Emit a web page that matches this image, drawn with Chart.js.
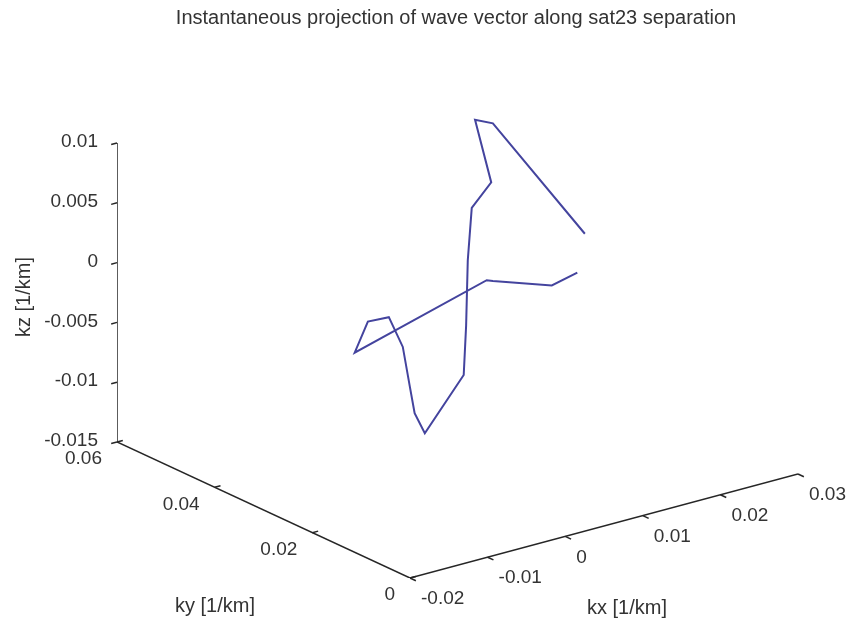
<!DOCTYPE html>
<html lang="en">
<head>
<meta charset="UTF-8">
<title>Wave vector projection</title>
<script src="https://cdn.jsdelivr.net/npm/chart.js"></script>
<style>
  body { margin: 0; background: #fff; }
  canvas { display: block; }
</style>
</head>
<body>
<canvas id="waveChart" width="855" height="627"></canvas>
<script>
// wave vector trace, components in 1/km
const kx = [0.0233, 0.0190, 0.0167, 0.0169, 0.0125, 0.0101, 0.0080, 0.0058, -0.0011, -0.0043,
            -0.0068, -0.0096, -0.0114, -0.0141, -0.0158, 0.0031, 0.0039, 0.0096, 0.0110];
const ky = [0.033, 0.045, 0.045, 0.042, 0.039, 0.036, 0.033, 0.030, 0.027, 0.024,
            0.021, 0.018, 0.018, 0.018, 0.018, 0.021, 0.021, 0.018, 0.015];
const kz = [0.0000, 0.0077, 0.0084, 0.0037, 0.0029, -0.0005, -0.0050, -0.0082, -0.0113, -0.0085,
            -0.0053, -0.0009, 0.0019, 0.0020, -0.0003, 0.0019, 0.0017, 0.0009, 0.0023];

// axis limits and ticks
const kxLim = [-0.02, 0.03];
const kyLim = [0, 0.06];
const kzLim = [-0.015, 0.01];
const kxTicks = [-0.02, -0.01, 0, 0.01, 0.02, 0.03];
const kyTicks = [0, 0.02, 0.04, 0.06];
const kzTicks = [-0.015, -0.01, -0.005, 0, 0.005, 0.01];
const kxTickLabels = ['-0.02', '-0.01', '0', '0.01', '0.02', '0.03'];
const kyTickLabels = ['0', '0.02', '0.04', '0.06'];
const kzTickLabels = ['-0.015', '-0.01', '-0.005', '0', '0.005', '0.01'];

// camera: where each unit axis of the box lands in the flat view
const ex = [388, 104];
const ey = [-293, 136];
const ez = [0, 299];

function project(x, y, z) {
    const nx = (x - kxLim[0]) / (kxLim[1] - kxLim[0]);
    const ny = (y - kyLim[0]) / (kyLim[1] - kyLim[0]);
    const nz = (z - kzLim[0]) / (kzLim[1] - kzLim[0]);
    return {
        x: nx * ex[0] + ny * ey[0] + nz * ez[0],
        y: nx * ex[1] + ny * ey[1] + nz * ez[1]
    };
}

const curve = kx.map((v, i) => project(v, ky[i], kz[i]));
const axisColor = '#262626';
const textColor = '#333333';
const font = '"Liberation Sans", Arial, sans-serif';

function axisLine(a, b) {
    return {
        data: [a, b],
        showLine: true,
        borderColor: axisColor,
        borderWidth: 1.5,
        pointRadius: 0
    };
}

// tick marks, labels and titles
const boxText = {
    id: 'boxText',
    afterDatasetsDraw(chart) {
        const ctx = chart.ctx;
        const sx = chart.scales.x, sy = chart.scales.y;
        const px = (p) => ({ x: sx.getPixelForValue(p.x), y: sy.getPixelForValue(p.y) });

        function tick(a, b) {
            ctx.beginPath();
            ctx.moveTo(a.x, a.y);
            ctx.lineTo(b.x, b.y);
            ctx.stroke();
        }

        ctx.save();
        ctx.strokeStyle = axisColor;
        ctx.lineWidth = 1.5;
        ctx.fillStyle = textColor;
        ctx.font = '19px ' + font;
        ctx.textBaseline = 'middle';

        // kz ticks on the back-left edge
        ctx.textAlign = 'right';
        kzTicks.forEach((t, i) => {
            const a = px(project(kxLim[0], kyLim[1], t));
            const b = px(project(kxLim[0] - 0.015 * 0.05, kyLim[1], t));
            tick(a, b);
            ctx.fillText(kzTickLabels[i], a.x - 19, a.y - 1);
        });

        // ky ticks
        kyTicks.forEach((t, i) => {
            const a = px(project(kxLim[0], t, kzLim[0]));
            const b = px(project(kxLim[0] + 0.015 * 0.05, t, kzLim[0]));
            tick(a, b);
            ctx.fillText(kyTickLabels[i], a.x - 15, a.y + 17);
        });

        // kx ticks
        ctx.textAlign = 'left';
        kxTicks.forEach((t, i) => {
            const a = px(project(t, kyLim[0], kzLim[0]));
            const b = px(project(t, kyLim[0] - 0.02 * 0.06, kzLim[0]));
            tick(a, b);
            ctx.fillText(kxTickLabels[i], a.x + 11, a.y + 21);
        });

        // axis titles
        ctx.font = '20px ' + font;
        ctx.textAlign = 'center';
        ctx.fillText('ky [1/km]', 215, 606);
        ctx.fillText('kx [1/km]', 627, 608);
        ctx.save();
        ctx.translate(24, 297);
        ctx.rotate(-Math.PI / 2);
        ctx.fillText('kz [1/km]', 0, 0);
        ctx.restore();

        // title
        ctx.fillText('Instantaneous projection of wave vector along sat23 separation', 456, 18);
        ctx.restore();
    }
};

new Chart(document.getElementById('waveChart'), {
    type: 'scatter',
    data: {
        datasets: [
            {
                data: curve,
                showLine: true,
                borderColor: 'rgb(68, 68, 158)',
                borderWidth: 2,
                pointRadius: 0,
                tension: 0
            },
            axisLine(project(kxLim[0], kyLim[1], kzLim[0]), project(kxLim[0], kyLim[1], kzLim[1])),
            axisLine(project(kxLim[0], kyLim[0], kzLim[0]), project(kxLim[0], kyLim[1], kzLim[0])),
            axisLine(project(kxLim[0], kyLim[0], kzLim[0]), project(kxLim[1], kyLim[0], kzLim[0]))
        ]
    },
    options: {
        responsive: false,
        animation: false,
        devicePixelRatio: 1,
        layout: { padding: { left: 117, right: 57, top: 39, bottom: 49 } },
        scales: {
            x: { display: false, min: ey[0], max: ex[0] },
            y: { display: false, min: 0, max: ex[1] + ey[1] + ez[1] }
        },
        plugins: {
            legend: { display: false },
            tooltip: { enabled: false }
        }
    },
    plugins: [boxText]
});
</script>
</body>
</html>
